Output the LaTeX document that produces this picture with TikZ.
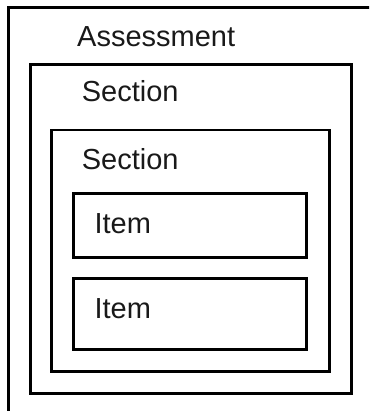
\documentclass[tikz,border=0pt]{standalone}
\usepackage{fontspec}
\setmainfont{Liberation Sans}
\usepackage{tikz}

\begin{document}
\begin{tikzpicture}[x=1pt, y=-1pt,
    box/.style={draw, line width=2.2pt, rectangle, inner sep=0pt, outer sep=0pt, anchor=north west},
    lbl/.style={anchor=base west, inner sep=0pt, text=black!90, font=\fontsize{29}{34}\selectfont}]
\useasboundingbox (0,0) rectangle (369,411);
\clip (0,0) rectangle (369,411);

% nested boxes, outermost first
\node [box, minimum width=420, minimum height=440] (assess) at (8.5,7.5) {};
\node [box, minimum width=321, minimum height=329] (sect1) at (30.5,64.5) {};
\node [box, minimum width=278, minimum height=241.5] (sect2) at (51.5,130) {};
\node [box, minimum width=233, minimum height=64] (item1) at (73.5,193.5) {};
\node [box, minimum width=233, minimum height=71] (item2) at (73.5,278.5) {};

% labels
\node [lbl] (assesstxt) at (77,47) {Assessment};
\node [lbl] (sect1txt) at (81.7,102) {Section};
\node [lbl] (sect2txt) at (81.7,169.3) {Section};
\node [lbl] (item1txt) at (94.3,233.3) {Item};
\node [lbl] (item2txt) at (94.3,318.3) {Item};

\end{tikzpicture}
\end{document}
